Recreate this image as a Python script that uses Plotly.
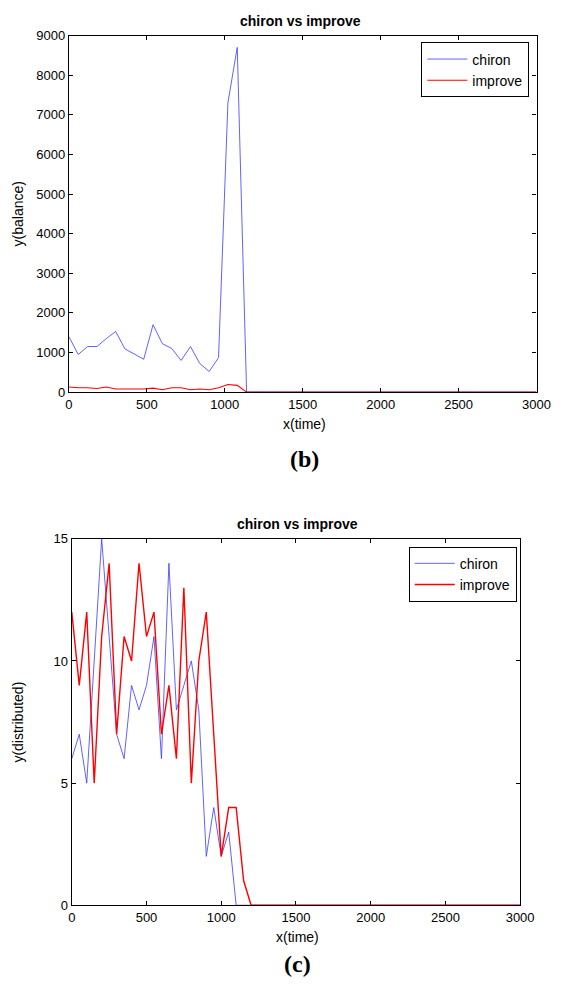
import plotly.graph_objects as go

# ---- data: panel (b) balance, sampled every 60 time units ----
time_b = list(range(0, 3001, 60))
chiron_b_head = [1400, 950, 1150, 1150, 1350, 1530, 1090, 960, 830, 1700,
                 1220, 1100, 800, 1150, 720, 520, 870, 7300, 8700, 0]
improve_b_head = [130, 110, 110, 90, 130, 80, 80, 80, 80, 100,
                  60, 110, 110, 60, 80, 60, 110, 190, 170, 0]
chiron_b = chiron_b_head + [0] * (len(time_b) - len(chiron_b_head))
improve_b = improve_b_head + [0] * (len(time_b) - len(improve_b_head))

# ---- data: panel (c) distributed, sampled every 50 time units ----
time_c = list(range(0, 3001, 50))
chiron_c_head = [6, 7, 5, 10, 15, 11, 7, 6, 9, 8, 9, 11, 6, 14, 8, 9, 10, 8,
                 2, 4, 2, 3, 0]
improve_c_head = [12, 9, 12, 5, 11, 14, 7, 11, 10, 14, 11, 12, 7, 9, 6, 13, 5,
                  10, 12, 7, 2, 4, 4, 1, 0]
chiron_c = chiron_c_head + [0] * (len(time_c) - len(chiron_c_head))
improve_c = improve_c_head + [0] * (len(time_c) - len(improve_c_head))

ticks_x = [0, 500, 1000, 1500, 2000, 2500, 3000]
ticks_yb = [0, 1000, 2000, 3000, 4000, 5000, 6000, 7000, 8000, 9000]
ticks_yc = [0, 5, 10, 15]

FONT = "Liberation Sans, Arial, sans-serif"
SERIF = "Liberation Serif, Times New Roman, serif"
W, H = 568, 994

fig = go.Figure()
fig.add_trace(go.Scatter(x=time_b, y=chiron_b, name="chiron", mode="lines",
                         line=dict(color="#3a3aff", width=0.8),
                         xaxis="x", yaxis="y", legend="legend"))
fig.add_trace(go.Scatter(x=time_b, y=improve_b, name="improve", mode="lines",
                         line=dict(color="#ff0000", width=1.1),
                         xaxis="x", yaxis="y", legend="legend"))
fig.add_trace(go.Scatter(x=time_c, y=chiron_c, name="chiron", mode="lines",
                         line=dict(color="#3a3aff", width=0.8),
                         xaxis="x2", yaxis="y2", legend="legend2"))
fig.add_trace(go.Scatter(x=time_c, y=improve_c, name="improve", mode="lines",
                         line=dict(color="#ff0000", width=1.4),
                         xaxis="x2", yaxis="y2", legend="legend2"))

def px_x(p):
    return p / W

def px_y(p):
    return 1 - p / H

axis_common = dict(showline=True, linecolor="black", linewidth=1.3, mirror="ticks",
                   ticks="inside", ticklen=4, tickcolor="black", tickwidth=1,
                   showgrid=False, zeroline=False,
                   tickfont=dict(family=FONT, size=13, color="black"))

fig.update_layout(
    xaxis=dict(domain=[px_x(67), px_x(550)], range=[0, 3000], tickvals=ticks_x,
               anchor="y", **axis_common),
    yaxis=dict(domain=[px_y(391), px_y(29)], range=[0, 9000], tickvals=ticks_yb,
               anchor="x", **axis_common),
    xaxis2=dict(domain=[px_x(70), px_x(533)], range=[0, 3000], tickvals=ticks_x,
                anchor="y2", **axis_common),
    yaxis2=dict(domain=[px_y(912), px_y(540)], range=[0, 15], tickvals=ticks_yc,
                anchor="x2", **axis_common),
)

legend_common = dict(bgcolor="white", bordercolor="black", borderwidth=1,
                     font=dict(family=FONT, size=14, color="black"),
                     xanchor="left", yanchor="top", tracegroupgap=0,
                     itemwidth=40)
fig.update_layout(
    legend=dict(x=px_x(431), y=px_y(36), **legend_common),
    legend2=dict(x=px_x(418), y=px_y(548), **legend_common),
)

ann = []
def add_text(text, x, y, size=14, bold=False, family=FONT, angle=0):
    t = f"<b>{text}</b>" if bold else text
    ann.append(dict(text=t, x=px_x(x), y=px_y(y), xref="paper", yref="paper",
                    showarrow=False, xanchor="center", yanchor="middle",
                    textangle=angle,
                    font=dict(family=family, size=size, color="black")))

add_text("chiron vs improve", 306, 14, size=14, bold=True)
add_text("x(time)", 310, 423)
add_text("y(balance)", 14, 210, angle=-90)
add_text("(b)", 310, 459, size=24, bold=True, family=SERIF)

add_text("chiron vs improve", 303, 525, size=14, bold=True)
add_text("x(time)", 303, 944)
add_text("y(distributed)", 14, 726, angle=-90)
add_text("(c)", 303, 972, size=24, bold=True, family=SERIF)

fig.update_layout(annotations=ann, width=W, height=H,
                  margin=dict(l=0, r=0, t=0, b=0),
                  paper_bgcolor="white", plot_bgcolor="white",
                  showlegend=True)

fig.write_html("out.html", config={"displayModeBar": False},
               post_script="document.body.style.margin='0';"
                           "document.body.style.overflow='hidden';")
